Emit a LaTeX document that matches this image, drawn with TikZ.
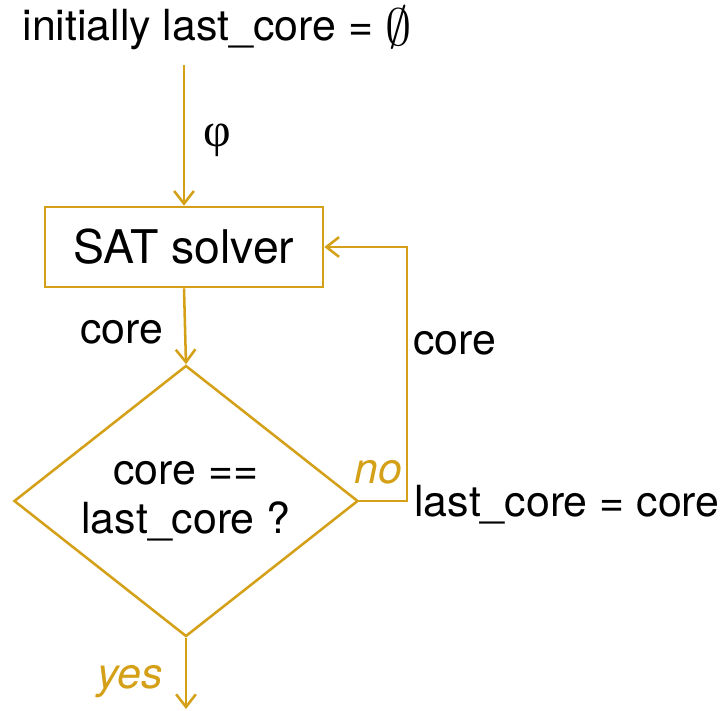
\documentclass[tikz,border=0pt]{standalone}
\usepackage{fontspec}
\setmainfont{TeX Gyre Heros}
\newfontfamily\greekfont{Liberation Serif}
\usetikzlibrary{shapes.geometric,arrows.meta}
\definecolor{gold}{RGB}{212,160,23}

\begin{document}
\begin{tikzpicture}[x=0.025cm,y=-0.025cm,
  font=\fontsize{30.5}{35}\selectfont,
  line/.style={gold, line width=1.8pt},
  arr/.style={line, -{Straight Barb[length=9pt,width=14pt,line width=1.8pt]}}]
\useasboundingbox (0,0) rectangle (723,710);

\node (init) at (217,28) {initially last\_core = \raisebox{-4pt}{\scalebox{1.5}{$\emptyset$}}};
\node[line, draw, text=black, font=\fontsize{33}{38}\selectfont, minimum width=6.95cm, minimum height=2cm] (solver) at (184,247) {SAT solver};
\node[line, draw, text=black, diamond, aspect=1.27, minimum width=8.6cm, minimum height=6.775cm, inner sep=0pt, align=center] (check) at (186,501) {core ==\\last\_core ?};

\coordinate (start) at (184,65);
\coordinate (turn) at (407,501);
\coordinate (out) at (186,709);

\draw[arr] (start) -- (solver.north);
\draw[arr] (solver.south) -- (check.north);
\draw[arr] (check.east) -- (turn) |- (solver.east);
\draw[arr] (check.south) -- (out);

\node (phi) at (217,140) {\greekfont\fontsize{34}{38}\selectfont φ};
\node (core1) at (122,332) {core};
\node (core2) at (455,343) {core};
\node (update) at (567,505) {last\_core = core};
\node[gold] (no) at (378,472) {\itshape no};
\node[gold] (yes) at (130,682) {\itshape yes};
\end{tikzpicture}
\end{document}
